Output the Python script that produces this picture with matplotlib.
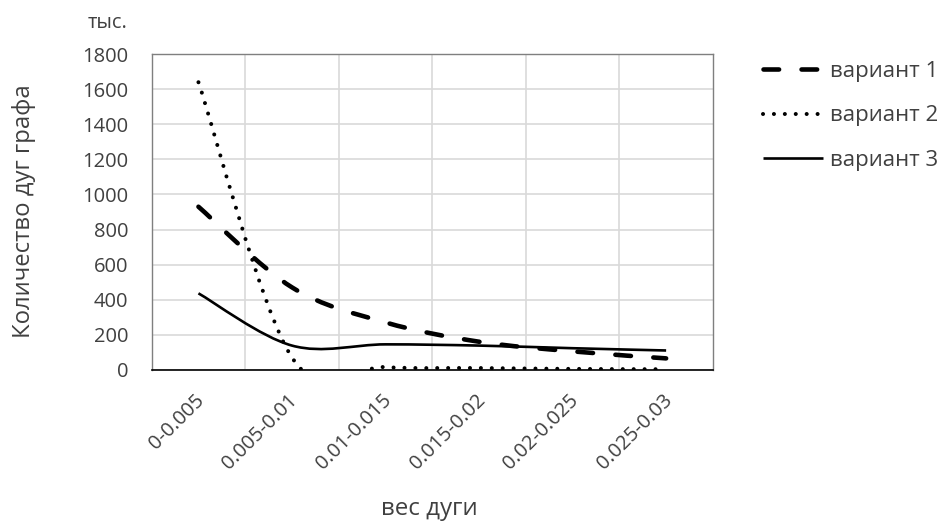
import matplotlib
matplotlib.use("Agg")
import matplotlib.pyplot as plt
import matplotlib.transforms as mtransforms
from matplotlib.path import Path
from matplotlib.patches import PathPatch
from matplotlib.lines import Line2D

plt.rcParams['font.family'] = ['Open Sans', 'DejaVu Sans']

categories = ["0-0.005", "0.005-0.01", "0.01-0.015", "0.015-0.02", "0.02-0.025", "0.025-0.03"]
variant1 = [930, 470, 270, 160, 105, 65]
variant2 = [1640, 70, 15, 10, 5, 3]
variant3 = [436, 138, 145, 138, 123, 110]
series_names = ["вариант 1", "вариант 2", "вариант 3"]

TEXT = '#404040'


def smoothPath(xs, ys):
    # excel-like smoothed line: catmull-rom turned into cubic beziers
    n = len(xs)
    verts = [(xs[0], ys[0])]
    codes = [Path.MOVETO]
    for i in range(n - 1):
        x0, y0 = (xs[i - 1], ys[i - 1]) if i > 0 else (xs[i], ys[i])
        x1, y1 = xs[i], ys[i]
        x2, y2 = xs[i + 1], ys[i + 1]
        x3, y3 = (xs[i + 2], ys[i + 2]) if i + 2 < n else (xs[i + 1], ys[i + 1])
        verts += [(x1 + (x2 - x0) / 6, y1 + (y2 - y0) / 6),
                  (x2 - (x3 - x1) / 6, y2 - (y3 - y1) / 6),
                  (x2, y2)]
        codes += [Path.CURVE4] * 3
    return Path(verts, codes)


fig = plt.figure(figsize=(9.48, 5.26), dpi=100)
ax = fig.add_axes([0.160, 0.297, 0.592, 0.600])

xs = [i + 0.5 for i in range(len(categories))]
styles = [
    dict(linestyle=(0, (3.4, 4.9)), linewidth=3.3, capstyle='round'),
    dict(linestyle=(0, (0.01, 2.7)), linewidth=2.9, capstyle='round'),
    dict(linestyle='-', linewidth=1.9, capstyle='butt'),
]
for vals, st in zip([variant1, variant2, variant3], styles):
    patch = PathPatch(smoothPath(xs, vals), fill=False, edgecolor='black',
                      linewidth=st['linewidth'], linestyle=st['linestyle'],
                      capstyle=st['capstyle'], zorder=3)
    ax.add_patch(patch)

ax.set_xlim(0, len(categories))
ax.set_ylim(0, 1800)
ax.set_yticks(range(0, 1801, 200))
ax.set_xticks(range(1, len(categories)))
ax.set_xticklabels([])
ax.set_xticks(xs, minor=True)
ax.set_xticklabels(categories, minor=True, rotation=45, ha='right',
                   rotation_mode='anchor', fontsize=14.5, color=TEXT)
ax.tick_params(axis='x', which='both', length=0, pad=15)
ax.tick_params(axis='y', length=0, pad=17, labelsize=14.5, labelcolor=TEXT)
shift = mtransforms.ScaledTranslation(-4 / 100, 0, fig.dpi_scale_trans)
for lbl in ax.get_xticklabels(minor=True):
    lbl.set_transform(lbl.get_transform() + shift)
ax.grid(True, which='major', color='#d9d9d9', linewidth=1.2)
ax.set_axisbelow(True)
for side in ['top', 'left', 'right']:
    ax.spines[side].set_color('#7f7f7f')
    ax.spines[side].set_linewidth(1.0)
ax.spines['bottom'].set_color('black')
ax.spines['bottom'].set_linewidth(1.2)

ax.set_ylabel("Количество дуг графа", fontsize=17.2, color=TEXT, va='baseline')
ax.yaxis.set_label_coords(-0.2175, 0.503)
ax.set_xlabel("вес дуги", fontsize=17.4, color=TEXT, va='baseline')
ax.xaxis.set_label_coords(0.494, -0.460)
fig.text(0.135, 0.956, "тыс.", fontsize=14.5, color=TEXT, ha='right', va='center')

handles = [Line2D([], [], color='black', linewidth=st['linewidth'],
                  linestyle=st['linestyle'], dash_capstyle=st['capstyle'],
                  solid_capstyle='butt') for st in styles]
fig.legend(handles, series_names, loc='upper left', bbox_to_anchor=(0.805, 0.884),
           frameon=False, fontsize=16, handlelength=2.7, handletextpad=0.3,
           labelspacing=1.05, labelcolor=TEXT, borderaxespad=0, borderpad=0)

fig.savefig("out.png", dpi=100)
